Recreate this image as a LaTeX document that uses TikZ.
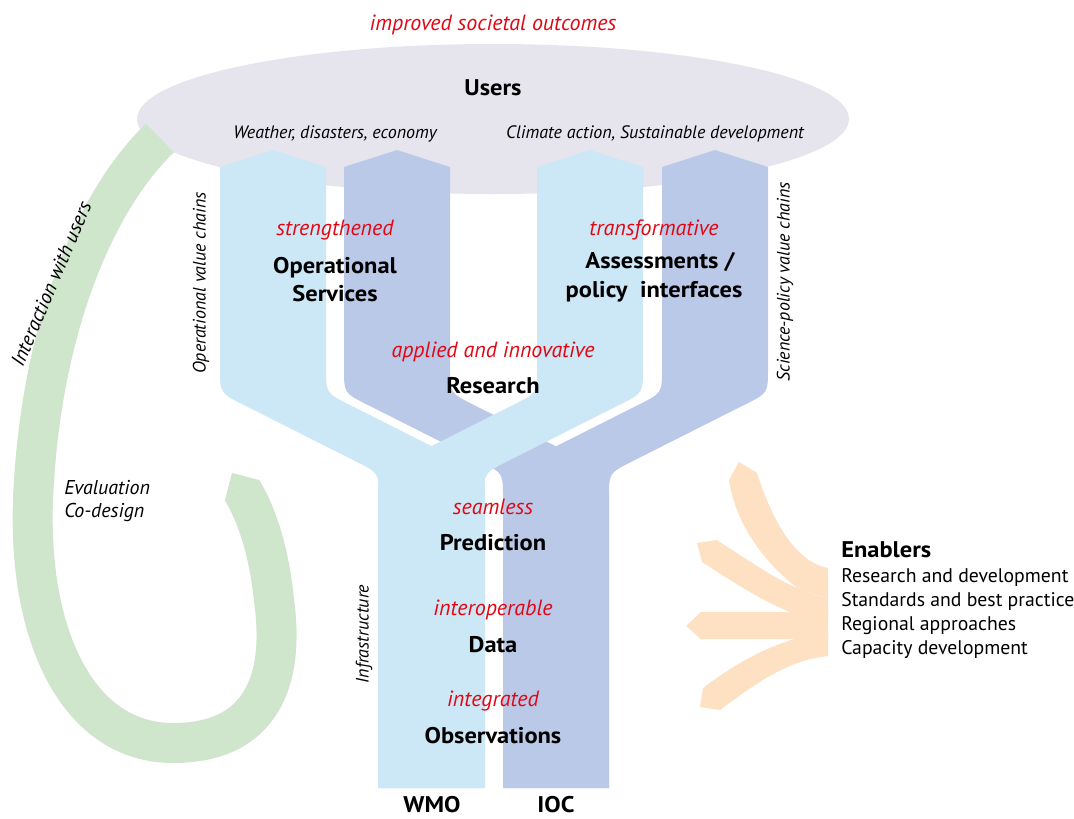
\documentclass[tikz,border=0pt]{standalone}
\usepackage{fontspec}
\setmainfont{PT Sans}[BoldFeatures={FakeStretch=1.08}]
\definecolor{lblue}{RGB}{204,231,245}
\definecolor{dblue}{RGB}{186,201,232}
\definecolor{ugrey}{RGB}{230,229,237}
\definecolor{agreen}{RGB}{207,229,204}
\definecolor{aorange}{RGB}{253,225,194}
\definecolor{wred}{RGB}{227,6,19}
\begin{document}
\begin{tikzpicture}[x=0.75pt,y=-0.75pt,
  bandshape/.pic={\fill[#1] (0,167) -- (53,150) -- (106,167) -- (106,368) .. controls (106,393) .. (128.4,404.2) -- (242.6,461.8) .. controls (265,473) .. (265,498) -- (265,788) -- (159,788) -- (159,498) .. controls (159,473) .. (136.6,461.8) -- (22.4,404.2) .. controls (0,393) .. (0,368) -- cycle;},
  lbl/.style={font=\fontsize{17}{20}\selectfont\bfseries, anchor=base, inner sep=0pt},
  adj/.style={font=\fontsize{16.5}{19}\selectfont\itshape, text=wred, anchor=base, inner sep=0pt},
  note/.style={font=\fontsize{13.5}{16}\selectfont\itshape, anchor=base, inner sep=0pt},
  side/.style={font=\fontsize{13.5}{16}\selectfont\itshape, rotate=90, inner sep=0pt},
  loop/.style={font=\fontsize{15}{18}\selectfont\itshape, inner sep=0pt},
  enab/.style={font=\fontsize{14.8}{17}\selectfont, anchor=base west, inner sep=0pt},
  greenband/.style={agreen, line width=30pt},
]
\useasboundingbox (0,0) rectangle (1074,818);
\fill[white] (0,0) rectangle (1074,818);
% users ellipse
\fill[ugrey] (493,119) ellipse [x radius=267pt, y radius=56.25pt];
% green loop
\draw[greenband] (160,138) .. controls (95,200) and (40,330) .. (33,500) .. controls (28,640) and (80,743) .. (173,743) .. controls (262,743) and (285,680) .. (274,600) .. controls (270,560) and (260,520) .. (242,490);
\fill[agreen] (225,500) -- (232,473) -- (259,480) -- cycle;
% bands
\pic at (344,0) {bandshape=dblue};
\pic[xscale=-1] at (768,0) {bandshape=dblue};
\pic at (220,0) {bandshape=lblue};
\pic[xscale=-1] at (643,0) {bandshape=lblue};
% enabler arrows
\fill[aorange] (729,480) -- (739,462) -- (757,473) .. controls (772,520) and (795,562) .. (828,568) -- (828,598) -- (800,590) .. controls (760,560) and (735,520) .. (729,480) -- cycle;
\fill[aorange] (697,543) -- (717,540) .. controls (760,568) and (790,590) .. (828,598) -- (828,615) -- (790,612) .. controls (760,600) and (730,580) .. (702,562) -- cycle;
\fill[aorange] (686,626) -- (701,612) -- (828,612) -- (828,639) -- (701,639) -- cycle;
\fill[aorange] (703,688) .. controls (740,660) and (780,638) .. (828,632) -- (828,656) .. controls (790,660) and (760,680) .. (720,710) -- (700,707) -- cycle;
% texts
\node[adj] (iso) at (493,30) {improved societal outcomes};
\node[lbl] (users) at (493,95) {Users};
\node[note] (wde) at (335,138) {Weather, disasters, economy};
\node[note] (cas) at (655,138) {Climate action, Sustainable development};
\node[adj] (str) at (335,235) {strengthened};
\node[lbl] (ops1) at (335,273) {Operational};
\node[lbl] (ops2) at (335,301) {Services};
\node[adj] (trf) at (654,235) {transformative};
\node[lbl] (ass1) at (660,268) {Assessments /};
\node[lbl] (ass2) at (654,297) {policy\ \ interfaces};
\node[adj] (app) at (493,357) {applied and innovative};
\node[lbl] (res) at (493,393) {Research};
\node[adj] (sea) at (493,514) {seamless};
\node[lbl] (pre) at (493,550) {Prediction};
\node[adj] (int) at (493,615) {interoperable};
\node[lbl] (dat) at (493,652) {Data};
\node[adj] (ing) at (493,706) {integrated};
\node[lbl] (obs) at (493,743) {Observations};
\node[lbl] (wmo) at (432,812) {WMO};
\node[lbl] (ioc) at (556,812) {IOC};
\node[side] (ovc) at (201,283) {Operational value chains};
\node[side] (spv) at (785,282) {Science-policy value chains};
\node[side] (inf) at (364,634) {Infrastructure};
\node[loop, rotate=67] (iwu) at (51,284) {Interaction with users};
\node[loop, anchor=base west] (eva) at (64,494) {Evaluation};
\node[loop, anchor=base west] (cod) at (64,517) {Co-design};
\node[enab, font=\fontsize{17}{20}\selectfont\bfseries] (ena) at (841,557) {Enablers};
\node[enab] (e1) at (841,582) {Research and development};
\node[enab] (e2) at (841,606) {Standards and best practice};
\node[enab] (e3) at (841,630) {Regional approaches};
\node[enab] (e4) at (841,654) {Capacity development};
\end{tikzpicture}
\end{document}
